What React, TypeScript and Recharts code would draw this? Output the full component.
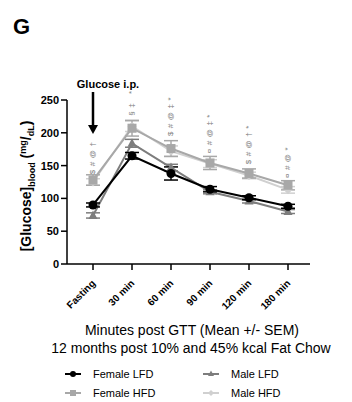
import { LineChart, Line, XAxis, YAxis, ErrorBar, LabelList } from "recharts";

const categories = ["Fasting", "30 min", "60 min", "90 min", "120 min", "180 min"];
const femaleLFD = [90, 165, 138, 114, 101, 88];
const femaleLFDErr = [3, 5, 10, 4, 3, 3];
const maleLFD = [74, 184, 147, 110, 96, 80];
const maleLFDErr = [4, 6, 5, 3, 3, 3];
const femaleHFD = [128, 207, 176, 154, 138, 120];
const femaleHFDErr = [8, 12, 12, 10, 7, 7];
const maleHFD = [125, 210, 172, 153, 135, 113];
const maleHFDErr = [5, 8, 8, 6, 5, 5];
const annotBase = [137, 226, 195, 169, 152, 131];
const annotText = ["$#@†", "§‡ *", "$#@‡*", "¤#@‡*", "$#@†*", "¤#@*"];
const yTicks = [0, 50, 100, 150, 200, 250];

const data = categories.map((c, i) => ({
  cat: c,
  fLFD: femaleLFD[i],
  fLFDe: femaleLFDErr[i],
  mLFD: maleLFD[i],
  mLFDe: maleLFDErr[i],
  fHFD: femaleHFD[i],
  fHFDe: femaleHFDErr[i],
  mHFD: maleHFD[i],
  mHFDe: maleHFDErr[i],
  annot: annotBase[i],
}));

const font = "'Liberation Sans', Arial, sans-serif";

type Shape = "circle" | "triangle" | "square" | "diamond";

const series: { key: string; name: string; color: string; shape: Shape }[] = [
  { key: "mHFD", name: "Male HFD", color: "#d0d0d0", shape: "diamond" },
  { key: "fHFD", name: "Female HFD", color: "#a8a8a8", shape: "square" },
  { key: "mLFD", name: "Male LFD", color: "#7d7d7d", shape: "triangle" },
  { key: "fLFD", name: "Female LFD", color: "#000000", shape: "circle" },
];

function marker(shape: Shape, cx: number, cy: number, color: string, s = 4.5) {
  if (shape === "circle") return <circle cx={cx} cy={cy} r={s} fill={color} />;
  if (shape === "square")
    return <rect x={cx - s} y={cy - s} width={s * 2} height={s * 2} fill={color} />;
  if (shape === "triangle")
    return (
      <polygon
        points={`${cx},${cy - s - 0.5} ${cx - s},${cy + s - 1} ${cx + s},${cy + s - 1}`}
        fill={color}
      />
    );
  return (
    <polygon
      points={`${cx},${cy - s} ${cx - s},${cy} ${cx},${cy + s} ${cx + s},${cy}`}
      fill={color}
    />
  );
}

const XTick = (props: any) => {
  const { x, y, payload } = props;
  const tx = x + 3;
  const ty = y + 12;
  return (
    <text
      x={tx}
      y={ty}
      transform={`rotate(-45 ${tx} ${ty})`}
      textAnchor="end"
      fontFamily={font}
      fontWeight="bold"
      fontSize={10}
      fill="#000"
    >
      {payload.value}
    </text>
  );
};

const YLabel = () => (
  <text
    x={31}
    y={186}
    transform="rotate(-90 31 186)"
    textAnchor="middle"
    fontFamily={font}
    fontWeight="bold"
    fontSize={14}
    fill="#000"
  >
    <tspan>[Glucose]</tspan>
    <tspan fontSize={9} dy={4}>blood</tspan>
    <tspan dy={-4}> (</tspan>
    <tspan fontSize={9} dy={-5}>mg</tspan>
    <tspan dy={5}>/</tspan>
    <tspan fontSize={9} dy={3}>dL</tspan>
    <tspan dy={-3}>)</tspan>
  </text>
);

const AnnotLabel = (props: any) => {
  const { x, y, index } = props;
  return (
    <text
      x={x}
      y={y}
      transform={`rotate(-90 ${x} ${y})`}
      textAnchor="start"
      dominantBaseline="central"
      fontFamily={font}
      fontSize={8}
      letterSpacing={3.5}
      fill="#808080"
    >
      {annotText[index]}
    </text>
  );
};

const LegendBlock = () => {
  const order = ["fLFD", "mLFD", "fHFD", "mHFD"];
  return (
    <g>
      {order.map((k, i) => {
        const s = series.find((d) => d.key === k)!;
        const col = i % 2;
        const row = Math.floor(i / 2);
        const x0 = col === 0 ? 65 : 203;
        const y0 = 374 + row * 19;
        return (
          <g key={k}>
            <line x1={x0} x2={x0 + 16} y1={y0} y2={y0} stroke={s.color} strokeWidth={2} />
            {marker(s.shape, x0 + 8, y0, s.color, 3)}
            <text x={x0 + 28} y={y0 + 4} fontFamily={font} fontSize={11} fill="#000">
              {s.name}
            </text>
          </g>
        );
      })}
    </g>
  );
};

export default function App() {
  return (
    <div
      style={{
        position: "absolute",
        left: 0,
        top: 0,
        width: 352,
        height: 402,
        background: "#fff",
        overflow: "hidden",
      }}
    >
      <LineChart
        width={352}
        height={402}
        data={data}
        margin={{ top: 100, right: 42, left: 0, bottom: 98 }}
        style={{ position: "absolute", left: 0, top: 0 }}
      >
        <XAxis
          dataKey="cat"
          padding={{ left: 26, right: 22 }}
          axisLine={{ stroke: "#000", strokeWidth: 1.5 }}
          tickLine={{ stroke: "#000", strokeWidth: 1.5 }}
          tickSize={6}
          tick={<XTick />}
          interval={0}
          height={40}
        />
        <YAxis
          domain={[0, 250]}
          ticks={yTicks}
          axisLine={{ stroke: "#000", strokeWidth: 1.5 }}
          tickLine={{ stroke: "#000", strokeWidth: 1.5 }}
          tickSize={6}
          tick={{ fontFamily: font, fontWeight: "bold", fontSize: 11, fill: "#000" }}
          width={67}
          label={{ content: () => <YLabel /> }}
        />
        <Line
          dataKey="annot"
          stroke="none"
          dot={false}
          activeDot={false}
          isAnimationActive={false}
          legendType="none"
        >
          <LabelList dataKey="annot" content={<AnnotLabel />} />
        </Line>
        {series.map((s) => (
          <Line
            key={s.key}
            dataKey={s.key}
            name={s.name}
            stroke={s.color}
            strokeWidth={2}
            isAnimationActive={false}
            dot={(p: any) => <g key={`${s.key}-${p.index}`}>{marker(s.shape, p.cx, p.cy, s.color)}</g>}
            activeDot={false}
          >
            <ErrorBar dataKey={`${s.key}e`} width={7} stroke={s.color} strokeWidth={1.5} />
          </Line>
        ))}
      </LineChart>
      <svg
        width={352}
        height={402}
        style={{ position: "absolute", left: 0, top: 0, pointerEvents: "none" }}
      >
        <text x={13} y={34} fontFamily={font} fontWeight="bold" fontSize={22} fill="#000">
          G
        </text>
        <text x={108} y={88} textAnchor="middle" fontFamily={font} fontWeight="bold" fontSize={11} fill="#000">
          Glucose i.p.
        </text>
        <line x1={93} x2={93} y1={92} y2={126} stroke="#000" strokeWidth={2.5} />
        <polygon points="88,125 98,125 93,134" fill="#000" />
        <text x={192} y={335} textAnchor="middle" fontFamily={font} fontSize={14} fill="#000">
          Minutes post GTT (Mean +/- SEM)
        </text>
        <text x={191} y={353} textAnchor="middle" fontFamily={font} fontSize={14} fill="#000">
          12 months post 10% and 45% kcal Fat Chow
        </text>
        <LegendBlock />
      </svg>
    </div>
  );
}
